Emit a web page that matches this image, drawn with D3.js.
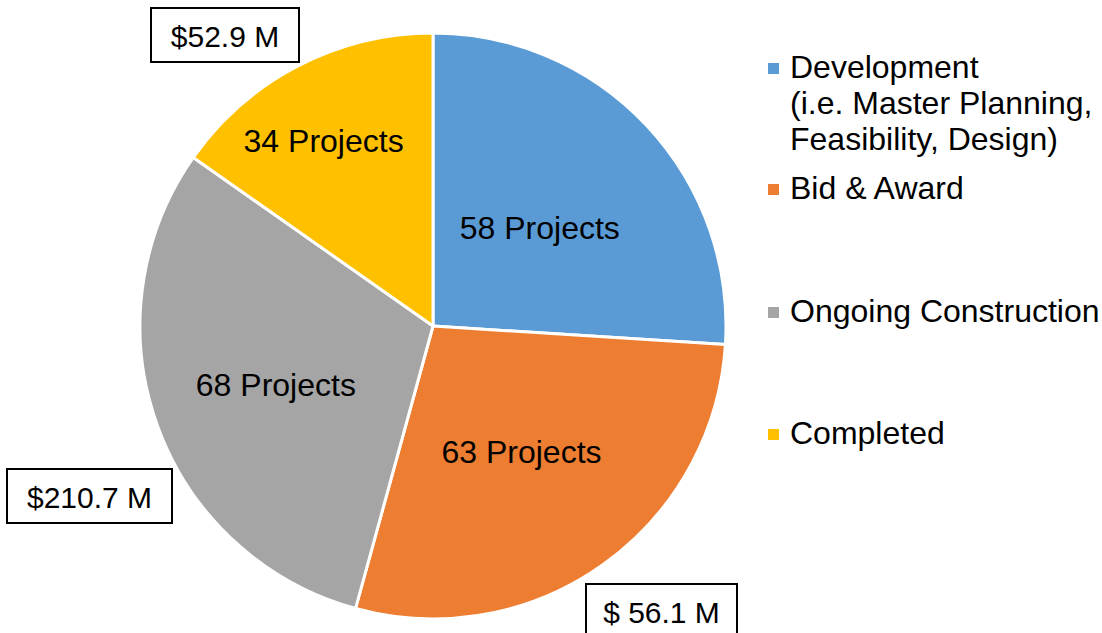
<!DOCTYPE html>
<html>
<head>
<meta charset="utf-8">
<script src="https://cdn.jsdelivr.net/npm/d3@7.9.0/dist/d3.min.js"></script>
<style>
  html, body { margin: 0; padding: 0; background: #fff; }
  svg { display: block; font-family: "Liberation Sans", Arial, sans-serif; }
</style>
</head>
<body>
<svg id="chart" width="1102" height="633"></svg>
<script>
// chart data
const categories = ['Development', 'Bid & Award', 'Ongoing Construction', 'Completed'];
const legendLines = [
  ['Development', '(i.e. Master Planning,', 'Feasibility, Design)'],
  ['Bid & Award'],
  ['Ongoing Construction'],
  ['Completed']
];
const projectCounts = [58, 63, 68, 34];
const dollarLabels = ['$ 56.1 M', '$210.7 M', '$52.9 M']; // orange, gray, yellow
const colors = ['#5B9BD5', '#ED7D31', '#A5A5A5', '#FFC000'];

const svg = d3.select('#chart');
const cx = 433, cy = 326, radius = 293;

const pie = d3.pie().sort(null).value(d => d);
const arcs = pie(projectCounts);
const arcGen = d3.arc().innerRadius(0).outerRadius(radius);

const g = svg.append('g').attr('transform', `translate(${cx},${cy})`);

g.selectAll('path')
  .data(arcs)
  .join('path')
  .attr('d', arcGen)
  .attr('fill', (d, i) => colors[i])
  .attr('stroke', '#fff')
  .attr('stroke-width', 3)
  .attr('stroke-linejoin', 'round');

// slice labels, pushed out a bit differently for each slice like the original
const labelRadius = [0.5, 0.52, 0.57, 0.74];
const labelShift = [0, 0, 0, -0.05];
g.selectAll('text.slice')
  .data(arcs)
  .join('text')
  .attr('class', 'slice')
  .attr('transform', (d, i) => {
    const a = (d.startAngle + d.endAngle) / 2 + labelShift[i];
    const r = radius * labelRadius[i];
    return `translate(${Math.sin(a) * r},${-Math.cos(a) * r + 2})`;
  })
  .attr('text-anchor', 'middle')
  .attr('dominant-baseline', 'central')
  .attr('font-size', 32)
  .attr('fill', '#000')
  .text(d => `${d.data} Projects`);

// dollar boxes
const boxes = [
  { x: 586, y: 584, w: 151, h: 56 },
  { x: 7, y: 469, w: 165, h: 54 },
  { x: 151, y: 8, w: 148, h: 54 }
];
boxes.forEach((b, i) => {
  svg.append('rect')
    .attr('x', b.x).attr('y', b.y)
    .attr('width', b.w).attr('height', b.h)
    .attr('fill', '#fff')
    .attr('stroke', '#000')
    .attr('stroke-width', 2);
  svg.append('text')
    .attr('x', b.x + b.w / 2)
    .attr('y', b.y + 28)
    .attr('text-anchor', 'middle')
    .attr('dominant-baseline', 'central')
    .attr('font-size', 30)
    .text(dollarLabels[i]);
});

// legend
const legendY = [67, 188, 311, 433];
const legend = svg.append('g');
categories.forEach((c, i) => {
  const item = legend.append('g').attr('transform', `translate(768,${legendY[i]})`);
  item.append('rect')
    .attr('x', 0).attr('y', -4)
    .attr('width', 11).attr('height', 11)
    .attr('fill', colors[i]);
  legendLines[i].forEach((line, j) => {
    item.append('text')
      .attr('x', 22)
      .attr('y', j * 36)
      .attr('dominant-baseline', 'central')
      .attr('font-size', 32)
      .attr('fill', '#000')
      .text(line);
  });
});
</script>
</body>
</html>
